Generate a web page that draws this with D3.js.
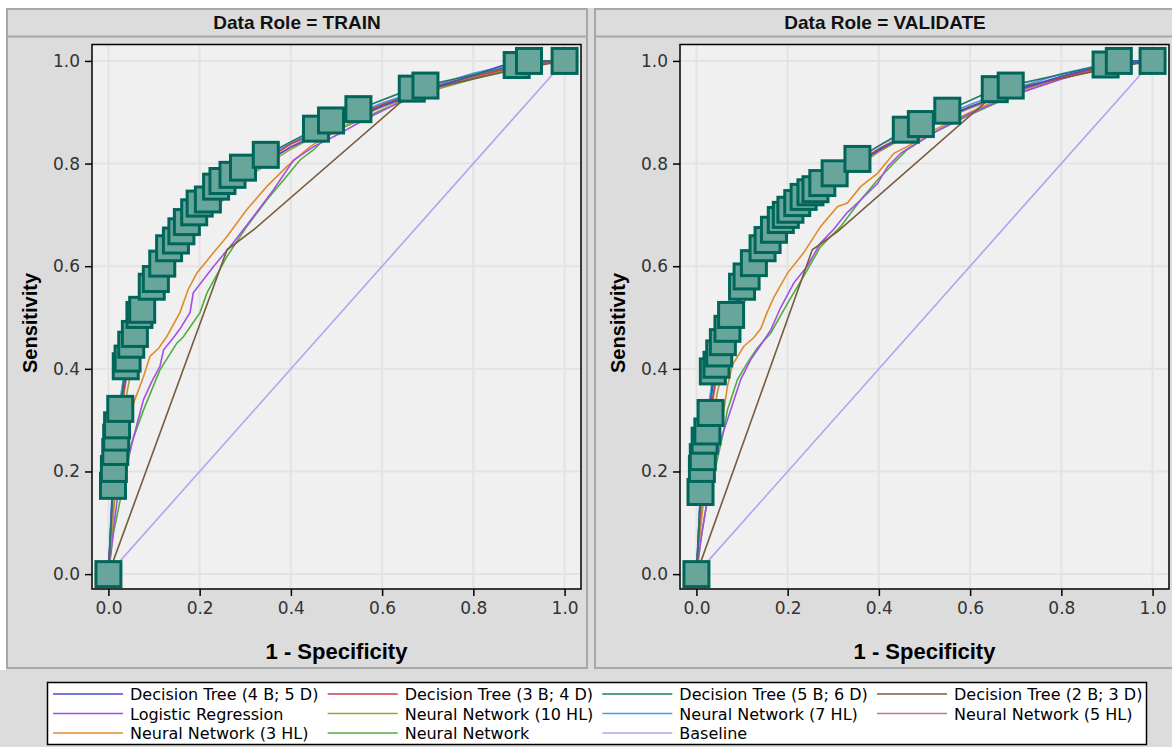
<!DOCTYPE html>
<html>
<head>
<meta charset="utf-8">
<script src="https://cdn.jsdelivr.net/npm/d3@7"></script>
<style>
  body { margin: 0; background: #ffffff; }
  svg { display: block; }
</style>
</head>
<body>
<div id="chart"></div>
<script>
// model names (legend order) and line colours
var modelNames = ["Decision Tree (4 B; 5 D)", "Decision Tree (3 B; 4 D)", "Decision Tree (5 B; 6 D)", "Decision Tree (2 B; 3 D)",
                  "Logistic Regression", "Neural Network (10 HL)", "Neural Network (7 HL)", "Neural Network (5 HL)",
                  "Neural Network (3 HL)", "Neural Network", "Baseline"];
var modelColors = ["#4a4ad2", "#c8414b", "#23786b", "#7a5a3c",
                   "#a64ee6", "#9aa23a", "#3fa0e6", "#c47a94",
                   "#e08c28", "#4caf3c", "#b6a0f2"];
var panelTitles = ["Data Role = TRAIN", "Data Role = VALIDATE"];
var tickValues = [0, 0.2, 0.4, 0.6, 0.8, 1.0];

// ROC points [1 - specificity, sensitivity], TRAIN
var trainDT4 = [[0,0],[0.008,0.15],[0.015,0.24],[0.025,0.32],[0.038,0.4],[0.05,0.44],[0.07,0.5],[0.1,0.56],[0.13,0.612],[0.16,0.655],[0.2,0.7],[0.25,0.742],[0.3,0.776],[0.35,0.806],[0.4,0.832],[0.45,0.852],[0.5,0.873],[0.55,0.893],[0.6,0.912],[0.7,0.944],[0.8,0.972],[0.86,0.99],[0.9,0.998],[1,1]];
var trainDT3 = [[0,0],[0.008,0.14],[0.016,0.23],[0.026,0.31],[0.04,0.39],[0.052,0.435],[0.072,0.495],[0.1,0.555],[0.13,0.607],[0.16,0.65],[0.2,0.698],[0.25,0.74],[0.3,0.778],[0.35,0.81],[0.4,0.838],[0.45,0.858],[0.5,0.878],[0.55,0.897],[0.6,0.915],[0.7,0.946],[0.8,0.97],[0.9,0.99],[1,1]];
var trainDT5 = [[0,0],[0.010,0.172],[0.012,0.205],[0.015,0.238],[0.017,0.266],[0.019,0.290],[0.026,0.322],[0.038,0.405],[0.042,0.420],[0.050,0.447],[0.058,0.468],[0.068,0.505],[0.074,0.515],[0.095,0.560],[0.104,0.575],[0.118,0.605],[0.133,0.635],[0.148,0.650],[0.160,0.668],[0.172,0.686],[0.188,0.705],[0.200,0.722],[0.218,0.730],[0.236,0.755],[0.250,0.766],[0.272,0.778],[0.295,0.792],[0.345,0.817],[0.455,0.868],[0.488,0.884],[0.548,0.906],[0.665,0.946],[0.695,0.952],[0.895,0.992],[0.922,1.0],[1,1]];
var trainDT2 = [[0,0],[0.26,0.632],[0.32,0.672],[0.665,0.938],[0.9,0.985],[1,1]];
var trainLR = [[0,0],[0.01,0.08],[0.02,0.15],[0.035,0.2],[0.048,0.242],[0.062,0.29],[0.077,0.34],[0.095,0.375],[0.113,0.405],[0.121,0.437],[0.142,0.46],[0.157,0.478],[0.179,0.51],[0.186,0.548],[0.23,0.599],[0.274,0.646],[0.318,0.697],[0.362,0.749],[0.406,0.807],[0.45,0.833],[0.5,0.855],[0.56,0.885],[0.65,0.925],[0.75,0.955],[0.85,0.98],[0.95,0.997],[1,1]];
var trainNN10 = [[0,0],[0.01,0.12],[0.018,0.2],[0.03,0.29],[0.042,0.36],[0.055,0.42],[0.075,0.478],[0.1,0.54],[0.13,0.59],[0.157,0.62],[0.18,0.65],[0.2,0.685],[0.23,0.71],[0.27,0.745],[0.3,0.77],[0.35,0.8],[0.4,0.828],[0.45,0.852],[0.5,0.874],[0.55,0.893],[0.6,0.91],[0.7,0.94],[0.8,0.968],[0.9,0.99],[1,1]];
var trainNN7 = [[0,0],[0.008,0.16],[0.014,0.25],[0.024,0.33],[0.036,0.4],[0.05,0.445],[0.07,0.503],[0.1,0.567],[0.13,0.62],[0.16,0.662],[0.2,0.71],[0.25,0.752],[0.3,0.787],[0.35,0.815],[0.4,0.84],[0.45,0.862],[0.5,0.882],[0.55,0.9],[0.6,0.918],[0.7,0.948],[0.8,0.976],[0.9,0.996],[1,1]];
var trainNN5 = [[0,0],[0.009,0.14],[0.017,0.23],[0.027,0.31],[0.04,0.385],[0.053,0.43],[0.073,0.49],[0.1,0.55],[0.13,0.603],[0.16,0.646],[0.2,0.695],[0.25,0.738],[0.3,0.774],[0.35,0.805],[0.4,0.833],[0.45,0.856],[0.5,0.876],[0.55,0.895],[0.6,0.913],[0.7,0.943],[0.8,0.97],[0.9,0.99],[1,1]];
var trainNN3 = [[0,0],[0.008,0.08],[0.015,0.16],[0.025,0.23],[0.04,0.29],[0.058,0.34],[0.077,0.385],[0.091,0.424],[0.11,0.44],[0.128,0.463],[0.157,0.51],[0.175,0.555],[0.194,0.587],[0.23,0.626],[0.26,0.658],[0.303,0.71],[0.347,0.755],[0.391,0.794],[0.442,0.833],[0.479,0.853],[0.55,0.89],[0.65,0.93],[0.75,0.96],[0.85,0.98],[0.93,0.995],[1,1]];
var trainNN = [[0,0],[0.011,0.08],[0.032,0.171],[0.051,0.256],[0.077,0.32],[0.113,0.398],[0.15,0.45],[0.164,0.462],[0.201,0.51],[0.216,0.548],[0.26,0.619],[0.303,0.677],[0.347,0.729],[0.384,0.768],[0.42,0.807],[0.45,0.827],[0.479,0.853],[0.52,0.872],[0.6,0.905],[0.7,0.94],[0.8,0.965],[0.9,0.99],[1,1]];
var trainBase = [[0,0],[1,1]];

// ROC points, VALIDATE
var valDT4 = [[0,0],[0.008,0.14],[0.016,0.23],[0.026,0.31],[0.04,0.39],[0.054,0.435],[0.074,0.49],[0.1,0.55],[0.13,0.6],[0.16,0.645],[0.2,0.69],[0.25,0.733],[0.3,0.768],[0.35,0.798],[0.4,0.826],[0.45,0.85],[0.5,0.87],[0.55,0.89],[0.6,0.91],[0.7,0.943],[0.8,0.97],[0.9,0.993],[1,1]];
var valDT3 = [[0,0],[0.009,0.13],[0.017,0.22],[0.028,0.3],[0.042,0.38],[0.056,0.428],[0.076,0.485],[0.1,0.545],[0.13,0.597],[0.16,0.642],[0.2,0.688],[0.25,0.732],[0.3,0.77],[0.35,0.8],[0.4,0.829],[0.45,0.853],[0.5,0.874],[0.55,0.893],[0.6,0.911],[0.7,0.942],[0.8,0.968],[0.9,0.99],[1,1]];
var valDT5 = [[0,0],[0.009,0.160],[0.012,0.205],[0.014,0.228],[0.018,0.260],[0.024,0.278],[0.031,0.314],[0.036,0.395],[0.044,0.408],[0.050,0.430],[0.058,0.452],[0.068,0.478],[0.076,0.505],[0.100,0.560],[0.110,0.580],[0.126,0.606],[0.145,0.635],[0.156,0.651],[0.170,0.671],[0.185,0.690],[0.196,0.700],[0.206,0.710],[0.221,0.723],[0.235,0.735],[0.250,0.744],[0.261,0.750],[0.276,0.762],[0.303,0.781],[0.353,0.809],[0.459,0.866],[0.492,0.877],[0.550,0.903],[0.654,0.945],[0.689,0.952],[0.897,0.993],[0.926,1.0],[1,1]];
var valDT2 = [[0,0],[0.254,0.632],[0.31,0.668],[0.66,0.94],[0.9,0.985],[1,1]];
var valLR = [[0,0],[0.012,0.08],[0.025,0.15],[0.04,0.215],[0.053,0.262],[0.068,0.301],[0.097,0.379],[0.119,0.418],[0.14,0.445],[0.163,0.476],[0.185,0.52],[0.214,0.568],[0.243,0.6],[0.272,0.645],[0.3,0.671],[0.33,0.704],[0.36,0.729],[0.397,0.761],[0.419,0.794],[0.448,0.82],[0.47,0.833],[0.53,0.865],[0.6,0.898],[0.7,0.935],[0.8,0.965],[0.9,0.99],[1,1]];
var valNN10 = [[0,0],[0.01,0.11],[0.019,0.19],[0.032,0.28],[0.045,0.35],[0.06,0.41],[0.08,0.468],[0.105,0.53],[0.135,0.58],[0.165,0.625],[0.2,0.672],[0.25,0.72],[0.3,0.76],[0.35,0.793],[0.4,0.823],[0.45,0.848],[0.5,0.87],[0.55,0.89],[0.6,0.908],[0.7,0.94],[0.8,0.967],[0.9,0.99],[1,1]];
var valNN7 = [[0,0],[0.008,0.15],[0.015,0.24],[0.025,0.32],[0.038,0.395],[0.052,0.44],[0.072,0.496],[0.1,0.558],[0.13,0.61],[0.16,0.653],[0.2,0.7],[0.25,0.742],[0.3,0.778],[0.35,0.808],[0.4,0.835],[0.45,0.858],[0.5,0.878],[0.55,0.897],[0.6,0.915],[0.7,0.947],[0.8,0.975],[0.9,0.995],[1,1]];
var valNN5 = [[0,0],[0.009,0.13],[0.018,0.22],[0.029,0.3],[0.043,0.375],[0.057,0.42],[0.077,0.478],[0.1,0.54],[0.13,0.592],[0.16,0.637],[0.2,0.685],[0.25,0.73],[0.3,0.767],[0.35,0.798],[0.4,0.827],[0.45,0.851],[0.5,0.872],[0.55,0.891],[0.6,0.91],[0.7,0.941],[0.8,0.968],[0.9,0.99],[1,1]];
var valNN3 = [[0,0],[0.008,0.08],[0.016,0.145],[0.03,0.21],[0.049,0.275],[0.062,0.33],[0.068,0.366],[0.079,0.408],[0.104,0.444],[0.125,0.46],[0.141,0.478],[0.155,0.51],[0.17,0.54],[0.2,0.587],[0.235,0.626],[0.272,0.677],[0.309,0.716],[0.331,0.723],[0.36,0.755],[0.397,0.781],[0.433,0.82],[0.462,0.833],[0.52,0.865],[0.6,0.9],[0.7,0.94],[0.8,0.968],[0.9,0.99],[1,1]];
var valNN = [[0,0],[0.01,0.07],[0.024,0.145],[0.045,0.22],[0.06,0.28],[0.068,0.32],[0.09,0.379],[0.112,0.412],[0.134,0.441],[0.163,0.47],[0.2,0.528],[0.235,0.58],[0.272,0.638],[0.316,0.677],[0.36,0.729],[0.397,0.768],[0.433,0.801],[0.462,0.827],[0.52,0.86],[0.6,0.895],[0.7,0.935],[0.8,0.965],[0.9,0.99],[1,1]];
var valBase = [[0,0],[1,1]];

var trainSeries = [trainDT4, trainDT3, trainDT5, trainDT2, trainLR, trainNN10, trainNN7, trainNN5, trainNN3, trainNN, trainBase];
var valSeries = [valDT4, valDT3, valDT5, valDT2, valLR, valNN10, valNN7, valNN5, valNN3, valNN, valBase];
var markerSeries = 2; // the squares sit on Decision Tree (5 B; 6 D)

var W = 1172, H = 747;
var svg = d3.select("#chart").append("svg")
	.attr("width", W)
	.attr("height", H);

// grey backdrop, white strip on top/left like the original
svg.append("rect").attr("x", 0).attr("y", 0).attr("width", W).attr("height", H).style("fill", "#dcdcdc");
svg.append("rect").attr("x", 0).attr("y", 0).attr("width", W).attr("height", 8).style("fill", "#ffffff");
svg.append("rect").attr("x", 0).attr("y", 0).attr("width", 6).attr("height", 670).style("fill", "#ffffff");

function drawPanel(px, title, series) {
	var g = svg.append("g");
	var plotL = px + 85, plotR = px + 574, plotT = 44.5, plotB = 589;

	g.append("rect")
		.attr("x", px).attr("y", 9)
		.attr("width", 580).attr("height", 659)
		.style("fill", "#dcdcdc")
		.style("stroke", "#a8a8a8")
		.style("stroke-width", 2);
	g.append("line")
		.attr("x1", px).attr("x2", px + 580)
		.attr("y1", 36.5).attr("y2", 36.5)
		.style("stroke", "#a8a8a8")
		.style("stroke-width", 2);
	g.append("text")
		.text(title)
		.attr("x", px + 290)
		.attr("y", 29)
		.attr("text-anchor", "middle")
		.style("font-family", "'Liberation Sans', Arial, sans-serif")
		.style("font-weight", "bold")
		.style("font-size", "19px")
		.style("fill", "#111");

	var x = d3.scaleLinear().domain([-0.036, 1.036]).range([plotL, plotR]);
	var y = d3.scaleLinear().domain([-0.029, 1.032]).range([plotB, plotT]);

	g.append("rect")
		.attr("x", plotL).attr("y", plotT)
		.attr("width", plotR - plotL).attr("height", plotB - plotT)
		.style("fill", "#f0f0f0");

	// grid
	g.selectAll(".vgrid").data(tickValues).enter().append("line")
		.attr("x1", function(d) { return x(d); }).attr("x2", function(d) { return x(d); })
		.attr("y1", plotT).attr("y2", plotB)
		.style("stroke", "#e3e3e3").style("stroke-width", 2);
	g.selectAll(".hgrid").data(tickValues).enter().append("line")
		.attr("y1", function(d) { return y(d); }).attr("y2", function(d) { return y(d); })
		.attr("x1", plotL).attr("x2", plotR)
		.style("stroke", "#e3e3e3").style("stroke-width", 2);

	var line = d3.line()
		.x(function(d) { return x(d[0]); })
		.y(function(d) { return y(d[1]); });

	// baseline first, then the models
	var order = [10, 9, 8, 4, 5, 7, 6, 3, 1, 0, 2];
	order.forEach(function(i) {
		g.append("path")
			.datum(series[i])
			.attr("d", line)
			.style("fill", "none")
			.style("stroke", modelColors[i])
			.style("stroke-width", 1.6);
	});

	// square markers
	var s = 25;
	g.selectAll(".marker")
		.data(series[markerSeries])
		.enter().append("rect")
		.attr("class", "marker")
		.attr("x", function(d) { return x(d[0]) - s / 2; })
		.attr("y", function(d) { return y(d[1]) - s / 2; })
		.attr("width", s).attr("height", s)
		.style("fill", "#68a59a")
		.style("stroke", "#00665a")
		.style("stroke-width", 3);

	// frame
	g.append("rect")
		.attr("x", plotL).attr("y", plotT)
		.attr("width", plotR - plotL).attr("height", plotB - plotT)
		.style("fill", "none")
		.style("stroke", "#000")
		.style("stroke-width", 1.5);

	var xAxis = d3.axisBottom(x).tickValues(tickValues).tickFormat(d3.format(".1f")).tickSize(7).tickSizeOuter(0).tickPadding(6);
	var yAxis = d3.axisLeft(y).tickValues(tickValues).tickFormat(d3.format(".1f")).tickSize(7).tickSizeOuter(0).tickPadding(5);

	var gx = g.append("g").attr("transform", "translate(0," + plotB + ")").call(xAxis);
	var gy = g.append("g").attr("transform", "translate(" + plotL + ",0)").call(yAxis);
	[gx, gy].forEach(function(a) {
		a.select(".domain").remove();
		a.selectAll("line").style("stroke", "#000").style("stroke-width", 1.5);
		a.selectAll("text")
			.style("font-family", "'DejaVu Sans', sans-serif")
			.style("font-size", "17px")
			.style("fill", "#333");
	});

	g.append("text")
		.text("1 - Specificity")
		.attr("x", (plotL + plotR) / 2)
		.attr("y", 659)
		.attr("text-anchor", "middle")
		.style("font-family", "'Liberation Sans', Arial, sans-serif")
		.style("font-weight", "bold")
		.style("font-size", "22px");
	g.append("text")
		.text("Sensitivity")
		.attr("transform", "translate(" + (px + 30) + ",323) rotate(-90)")
		.attr("text-anchor", "middle")
		.style("font-family", "'Liberation Sans', Arial, sans-serif")
		.style("font-weight", "bold")
		.style("font-size", "20px");
}

drawPanel(7, panelTitles[0], trainSeries);
drawPanel(595, panelTitles[1], valSeries);

// legend
var legend = svg.append("g");
legend.append("rect")
	.attr("x", 47.5).attr("y", 682.5)
	.attr("width", 1099).attr("height", 62)
	.style("fill", "#ffffff")
	.style("stroke", "#000")
	.style("stroke-width", 1.5);

var colX = d3.scalePoint().domain([0, 1, 2, 3]).range([53, 877]);
var rowY = d3.scalePoint().domain([0, 1, 2]).range([694, 733]);

var item = legend.selectAll(".item")
	.data(modelNames)
	.enter().append("g")
	.attr("class", "item")
	.attr("transform", function(d, i) { return "translate(" + colX(i % 4) + "," + rowY(Math.floor(i / 4)) + ")"; });
item.append("line")
	.attr("x1", 0).attr("x2", 70)
	.attr("y1", 0).attr("y2", 0)
	.style("stroke", function(d, i) { return modelColors[i]; })
	.style("stroke-width", 1.6);
item.append("text")
	.text(function(d) { return d; })
	.attr("x", 77)
	.attr("y", 6)
	.style("font-family", "'DejaVu Sans', sans-serif")
	.style("font-size", "16px")
	.style("fill", "#000");
</script>
</body>
</html>
